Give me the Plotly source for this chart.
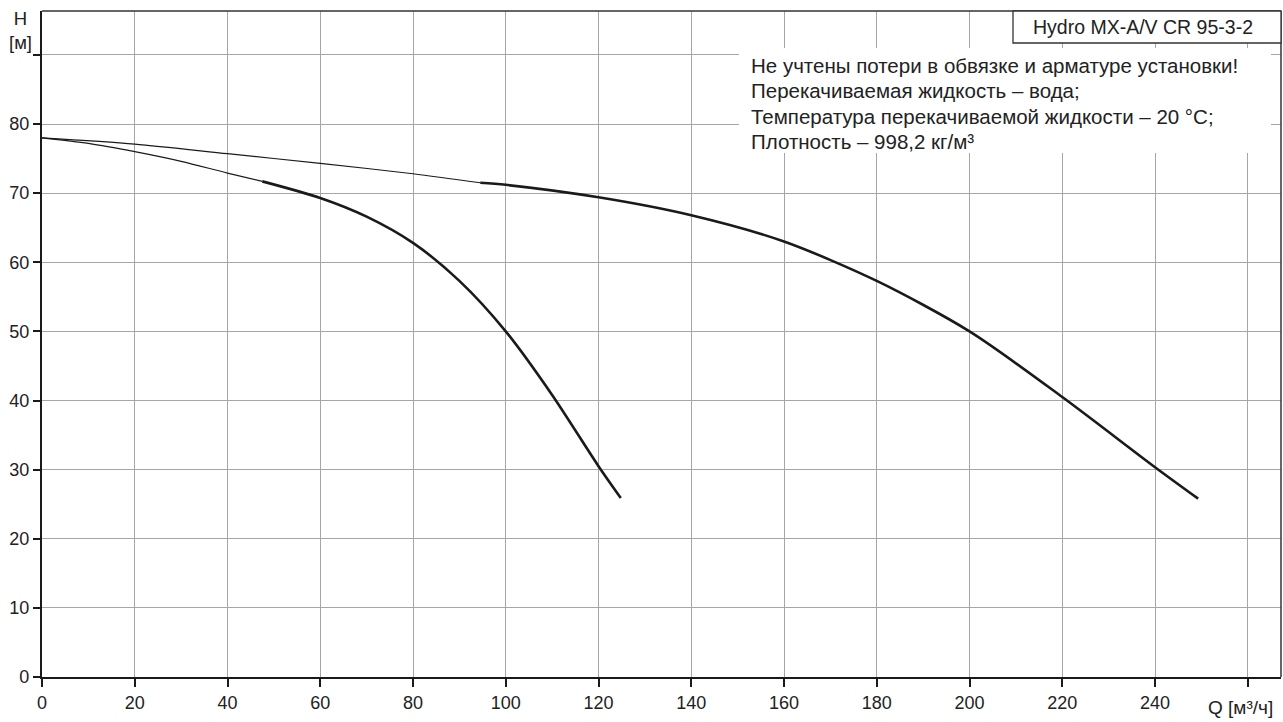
import plotly.graph_objects as go

# ---- data ----
q_full = [0, 20, 40, 60, 80, 94.5, 100, 120, 140, 160, 180, 200, 220, 240, 249.3]
h_full = [78.0, 77.1, 75.7, 74.3, 72.8, 71.5, 71.2, 69.4, 66.8, 63.0, 57.3, 50.0, 40.5, 30.35, 25.8]
q_full_thick_from = 94.5

q_red = [0, 10, 20, 30, 40, 47.5, 60, 70, 80, 90, 100, 110, 120, 124.8]
h_red = [78.0, 77.2, 76.0, 74.6, 72.9, 71.7, 69.3, 66.6, 62.8, 57.3, 50.0, 40.8, 30.5, 25.9]
q_red_thick_from = 47.5

x_ticks = list(range(0, 261, 20))
x_labels = [str(v) for v in x_ticks[:-1]] + [""]
y_ticks = list(range(0, 91, 10))
y_labels = [str(v) for v in y_ticks[:-1]] + [""]

title_box = "Hydro MX-A/V CR 95-3-2"
note_lines = [
    "Не учтены потери в обвязке и арматуре установки!",
    "Перекачиваемая жидкость – вода;",
    "Температура перекачиваемой жидкости – 20 °C;",
    "Плотность – 998,2 кг/м³",
]
x_title = "Q [м³/ч]"
y_title = "H<br>[м]"

FONT = "Liberation Sans, Arial, sans-serif"
TXT = "#222222"
LINE = "#1a1a1a"

fig = go.Figure()


def add_curve(q, h, cut):
    thin_q = [a for a in q if a <= cut]
    thin_h = [b for a, b in zip(q, h) if a <= cut]
    thick_q = [a for a in q if a >= cut]
    thick_h = [b for a, b in zip(q, h) if a >= cut]
    fig.add_trace(go.Scatter(x=thin_q, y=thin_h, mode="lines",
                             line=dict(color=LINE, width=1.2, shape="spline", smoothing=0.8),
                             hoverinfo="skip", showlegend=False))
    fig.add_trace(go.Scatter(x=thick_q, y=thick_h, mode="lines",
                             line=dict(color=LINE, width=2.6, shape="spline", smoothing=0.8),
                             hoverinfo="skip", showlegend=False))


add_curve(q_full, h_full, q_full_thick_from)
add_curve(q_red, h_red, q_red_thick_from)

# plot area in pixels: x 42..1281, y 11..677
L, R, T, B = 42, 1281, 11, 677
W, H = 1283, 722


def px(xp):
    return (xp - L) / (R - L)


def py(yp):
    return (B - yp) / (B - T)


fig.update_layout(
    width=W, height=H,
    margin=dict(l=L, r=W - R, t=T, b=H - B, pad=0),
    paper_bgcolor="white", plot_bgcolor="white",
    font=dict(family=FONT, size=18, color=TXT),
    showlegend=False,
    xaxis=dict(range=[0, (R - L) / 4.6375], tickvals=x_ticks, ticktext=x_labels,
               showgrid=True, gridcolor="#a6a6a6", gridwidth=1.3,
               showline=True, linecolor=LINE, linewidth=2.2,
               ticks="outside", ticklen=8, tickwidth=2, tickcolor=LINE,
               tickfont=dict(size=18, family=FONT, color=TXT),
               zeroline=False, fixedrange=True),
    yaxis=dict(range=[0, (B - T) / 6.9125], tickvals=y_ticks, ticktext=y_labels,
               showgrid=True, gridcolor="#a6a6a6", gridwidth=1.3,
               showline=True, linecolor=LINE, linewidth=2.2,
               ticks="outside", ticklen=7, tickwidth=2, tickcolor=LINE,
               tickfont=dict(size=18, family=FONT, color=TXT),
               zeroline=False, fixedrange=True),
)

# top and right frame lines
fig.add_shape(type="line", xref="paper", yref="paper", x0=0, x1=1, y0=1, y1=1,
              line=dict(color="#333333", width=1.5))
fig.add_shape(type="line", xref="paper", yref="paper", x0=1, x1=1, y0=0, y1=1,
              line=dict(color="#333333", width=1.5))

# white area behind note
fig.add_shape(type="rect", xref="paper", yref="paper",
              x0=px(739), x1=px(1271), y0=py(153), y1=py(48),
              fillcolor="white", line=dict(width=0), layer="above")

for i, line in enumerate(note_lines):
    fig.add_annotation(xref="paper", yref="paper", x=px(749), y=py(66 + 25 * i),
                       xanchor="left", yanchor="middle", align="left",
                       text=line, showarrow=False,
                       font=dict(size=20.5, family=FONT, color=TXT))

# title box
fig.add_shape(type="rect", xref="paper", yref="paper",
              x0=px(1013), x1=1, y0=py(43), y1=1,
              fillcolor="white", line=dict(color="#333333", width=1.3), layer="above")
fig.add_annotation(xref="paper", yref="paper", x=px(1143), y=py(27),
                   xanchor="center", yanchor="middle", text=title_box, showarrow=False,
                   font=dict(size=19.5, family=FONT, color=TXT))

# axis titles
fig.add_annotation(xref="paper", yref="paper", x=px(20), y=py(31),
                   xanchor="center", yanchor="middle", text=y_title, showarrow=False,
                   font=dict(size=18.5, family=FONT, color=TXT))
fig.add_annotation(xref="paper", yref="paper", x=px(1240), y=py(708),
                   xanchor="center", yanchor="middle", text=x_title, showarrow=False,
                   font=dict(size=19, family=FONT, color=TXT))

fig.write_html("out.html", config={"displayModeBar": False},
               post_script="document.body.style.margin='0';document.body.style.overflow='hidden';")
